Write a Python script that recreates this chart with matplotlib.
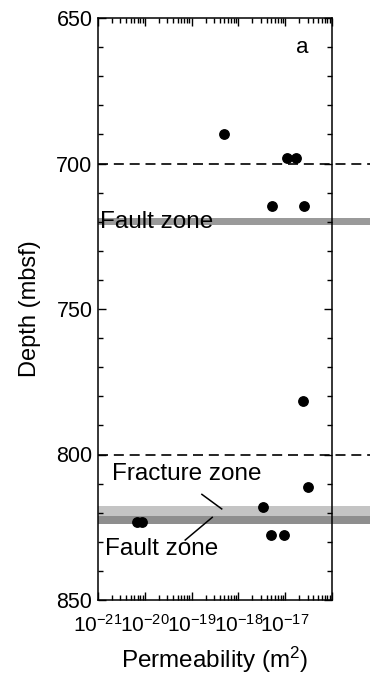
import matplotlib
matplotlib.use("Agg")
import matplotlib.pyplot as plt
import matplotlib.transforms as mtransforms
from matplotlib.patches import Rectangle
from matplotlib.ticker import FixedLocator, LogLocator, NullFormatter, MultipleLocator

plt.rcParams['font.family'] = ['Liberation Sans', 'DejaVu Sans']
plt.rcParams['mathtext.fontset'] = 'custom'
plt.rcParams['mathtext.rm'] = 'Liberation Sans'
plt.rcParams['mathtext.it'] = 'Liberation Sans'

# ---- data ----
permeability = [5e-19, 1.1e-17, 1.7e-17, 5.2e-18, 2.5e-17, 2.35e-17, 3.1e-17,
                3.3e-18, 6.9e-21, 8.9e-21, 5e-18, 9.6e-18]
depth = [690, 698, 698, 714.6, 714.6, 781.5, 811.3,
         818, 823.3, 823.3, 827.7, 827.7]
dashed_depths = [700, 800]
# zones: (top, bottom, colour)
zone_tops = [718.8, 817.8, 821.1]
zone_bottoms = [721.2, 821.1, 824.0]
zone_colors = ['#9a9a9a', '#c4c4c4', '#8e8e8e']
x_major = [1e-21, 1e-20, 1e-19, 1e-18, 1e-17, 1e-16]
x_labels = ['$10^{-21}$', '$10^{-20}$', '$10^{-19}$', '$10^{-18}$', '$10^{-17}$', '']
y_major = [650, 700, 750, 800, 850]

fig = plt.figure(figsize=(3.70, 6.76), dpi=100)
ax = fig.add_axes([98/370, 1 - 600/676, 234/370, 582/676])

ax.set_xscale('log')
ax.set_xlim(1e-21, 1e-16)
ax.set_ylim(850, 650)

ext = (370 - 98) / 234.0  # extend lines/bands to the figure edge
trans = mtransforms.blended_transform_factory(ax.transAxes, ax.transData)

for top, bot, col in zip(zone_tops, zone_bottoms, zone_colors):
    ax.add_patch(Rectangle((0, top), ext, bot - top, transform=trans,
                           facecolor=col, edgecolor='none', clip_on=False, zorder=1))

for d in dashed_depths:
    ax.plot([0, ext], [d, d], transform=trans, color='black', lw=1.2,
            dashes=(6, 3.5), clip_on=False, zorder=2)

ax.scatter(permeability, depth, s=46, color='black', zorder=4, clip_on=False)

# annotations
fs_ann = 17.5
ax.text(1.1e-21, 720, 'Fault zone', fontsize=fs_ann, va='center', ha='left', zorder=3)
ax.text(1.95e-21, 806.8, 'Fracture zone', fontsize=fs_ann, va='center', ha='left', zorder=3)
ax.text(1.41e-21, 832.5, 'Fault zone', fontsize=fs_ann, va='center', ha='left', zorder=3)
ax.plot([1.66e-19, 4.4e-19], [813.7, 818.7], color='black', lw=1.1, zorder=3)
ax.plot([2.76e-19, 7.3e-20], [821.6, 829.4], color='black', lw=1.1, zorder=3)
ax.text(2.3e-17, 660.3, 'a', fontsize=16, va='center', ha='center')

# ticks
ax.xaxis.set_major_locator(FixedLocator(x_major))
ax.set_xticklabels(x_labels)
ax.xaxis.set_minor_locator(LogLocator(base=10, subs=range(2, 10), numticks=20))
ax.xaxis.set_minor_formatter(NullFormatter())
ax.yaxis.set_major_locator(FixedLocator(y_major))
ax.yaxis.set_minor_locator(MultipleLocator(10))

ax.tick_params(which='both', direction='in', top=True, right=True, width=1.0,
               colors='black')
ax.tick_params(which='major', length=6)
ax.tick_params(which='minor', length=3.5)
ax.tick_params(axis='y', pad=4, labelsize=15.5)
ax.tick_params(axis='x', pad=10, labelsize=15)

for s in ax.spines.values():
    s.set_linewidth(1.1)

ax.set_xlabel('Permeability (m$^2$)', fontsize=17.5, labelpad=6.5)
ax.set_ylabel('Depth (mbsf)', fontsize=17, labelpad=11)

fig.savefig('out.png', dpi=100)
